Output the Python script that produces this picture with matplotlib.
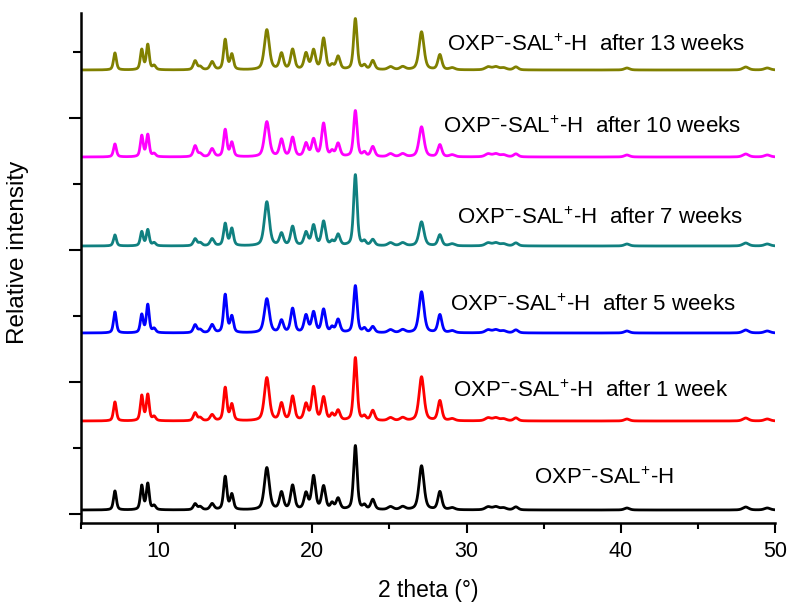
import numpy as np
import matplotlib.pyplot as plt
from matplotlib.ticker import MultipleLocator

plt.rcParams['font.family'] = ['Liberation Sans', 'DejaVu Sans']
plt.rcParams['mathtext.fontset'] = 'custom'
plt.rcParams['mathtext.rm'] = 'Liberation Sans'

# posicoes dos picos (2 theta) e larguras (FWHM)
picos = [7.2, 8.94, 9.33, 9.74, 12.4, 12.73, 13.5, 14.35, 14.78, 17.05, 18.0, 18.72,
         19.59, 20.08, 20.73, 21.28, 21.67, 22.79, 23.38, 23.92, 25.07, 25.86, 27.08,
         28.27, 29.07, 31.4, 31.9, 32.4, 33.2, 40.4, 48.1, 49.5]
larguras = [0.22, 0.22, 0.22, 0.25, 0.27, 0.27, 0.3, 0.25, 0.25, 0.38, 0.3, 0.3,
            0.3, 0.3, 0.3, 0.25, 0.3, 0.27, 0.25, 0.3, 0.4, 0.4, 0.38,
            0.3, 0.4, 0.45, 0.45, 0.45, 0.35, 0.4, 0.45, 0.45]

# alturas relativas dos picos em cada amostra
h_inicial = [19, 24, 26, 4, 6, 3, 6, 33, 15, 42, 17, 24, 16, 33, 23, 6, 11, 64, 4, 10, 3, 3, 44, 18, 2, 3, 3, 2, 3, 2, 3, 2]
h_1sem = [19, 25, 26, 4, 8, 3, 6, 33, 16, 43, 17, 24, 16, 33, 23, 6, 10, 63, 4, 10, 3, 3, 44, 20, 2, 3, 3, 2, 3, 2, 3, 2]
h_5sem = [21, 18, 28, 4, 8, 3, 8, 38, 16, 34, 12, 24, 17, 20, 23, 5, 13, 47, 4, 6, 3, 3, 41, 18, 2, 3, 3, 2, 3, 2, 3, 2]
h_7sem = [11, 14, 16, 3, 7, 3, 7, 22, 17, 44, 12, 19, 13, 20, 24, 4, 11, 71, 4, 6, 3, 3, 24, 11, 2, 3, 3, 2, 3, 2, 3, 2]
h_10sem = [13, 21, 22, 3, 11, 3, 8, 27, 14, 35, 17, 19, 13, 17, 33, 5, 13, 46, 4, 10, 3, 3, 30, 12, 2, 3, 3, 2, 3, 2, 3, 2]
h_13sem = [17, 20, 25, 4, 9, 3, 8, 30, 15, 40, 16, 20, 16, 19, 31, 4, 13, 51, 4, 9, 3, 3, 38, 15, 2, 3, 3, 2, 3, 2, 3, 2]

alturas = [h_inicial, h_1sem, h_5sem, h_7sem, h_10sem, h_13sem]
deslocamentos = [4, 93, 181, 268, 357, 444]
cores = ['black', '#ff0000', '#0000ff', '#108080', '#ff00ff', '#808000']
rotulos = [r'OXP$^{-}$-SAL$^{+}$-H',
           r'OXP$^{-}$-SAL$^{+}$-H  after 1 week',
           r'OXP$^{-}$-SAL$^{+}$-H  after 5 weeks',
           r'OXP$^{-}$-SAL$^{+}$-H  after 7 weeks',
           r'OXP$^{-}$-SAL$^{+}$-H  after 10 weeks',
           r'OXP$^{-}$-SAL$^{+}$-H  after 13 weeks']
pos_rotulos = [(34.4, 36), (29.1, 123), (28.9, 209), (29.4, 296), (28.5, 387), (28.75, 469)]

x = np.linspace(5, 50, 4500)


def difratograma(alt):
    y = np.zeros_like(x)
    for p, w, h in zip(picos, larguras, alt):
        g = np.exp(-4 * np.log(2) * ((x - p) / w) ** 2)
        l = 1 / (1 + 4 * ((x - p) / w) ** 2)
        y += h * (0.5 * g + 0.5 * l)
    return y


fig = plt.figure(figsize=(7.88, 6.05), dpi=100)
ax = fig.add_axes([0.1028, 0.1355, 0.8807, 0.843])

for alt, d, c, r, (tx, ty) in zip(alturas, deslocamentos, cores, rotulos, pos_rotulos):
    ax.plot(x, difratograma(alt) + d, color=c, lw=2.0)
    ax.text(tx, ty, r, fontsize=16, ha='left', va='center')

ax.set_xlim(5, 50)
ax.set_ylim(-9, 501)
ax.xaxis.set_major_locator(MultipleLocator(10))
ax.xaxis.set_minor_locator(MultipleLocator(5))
ax.yaxis.set_major_locator(MultipleLocator(132))
ax.yaxis.set_minor_locator(MultipleLocator(66))
ax.tick_params(axis='x', which='major', length=7, width=1.5, labelsize=15.5, pad=6)
ax.tick_params(axis='x', which='minor', length=4, width=1.5)
ax.tick_params(axis='y', which='major', length=8.5, width=1.5)
ax.tick_params(axis='y', which='minor', length=5.5, width=1.5)
ax.tick_params(axis='y', labelleft=False)
for s in ['top', 'right']:
    ax.spines[s].set_visible(False)
for s in ['left', 'bottom']:
    ax.spines[s].set_linewidth(1.8)

ax.set_xlabel('2 theta (°)', fontsize=16.5, labelpad=12)
ax.set_ylabel('Relative intensity', fontsize=17.5)
ax.yaxis.set_label_coords(-0.075, 0.53)

fig.savefig('out.png', dpi=100)
